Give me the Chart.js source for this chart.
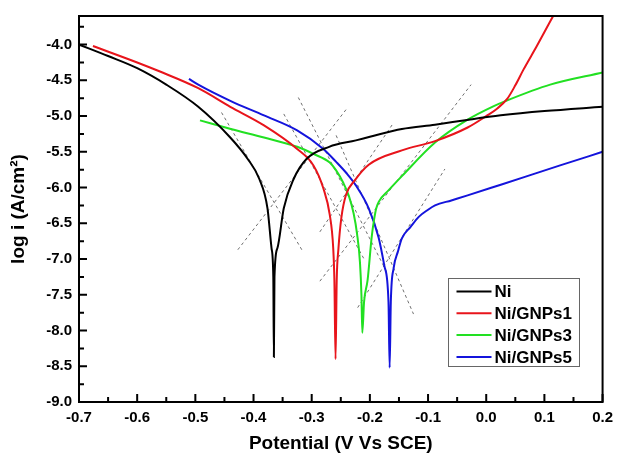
<!DOCTYPE html>
<html>
<head>
<meta charset="utf-8">
<title>Tafel curves</title>
<script src="https://cdn.jsdelivr.net/npm/chart.js@4.4.1/dist/chart.umd.min.js"></script>
<style>
  html, body { margin: 0; padding: 0; background: #fff; }
  canvas { display: block; }
</style>
</head>
<body>
<canvas id="tafelChart" width="620" height="460"></canvas>
<script>
// Ejes
const xTicks = [-0.7, -0.6, -0.5, -0.4, -0.3, -0.2, -0.1, 0.0, 0.1, 0.2];
const yTicks = [-9.0, -8.5, -8.0, -7.5, -7.0, -6.5, -6.0, -5.5, -5.0, -4.5, -4.0];

// Nombres de las series
const seriesNames = ['Ni', 'Ni/GNPs1', 'Ni/GNPs3', 'Ni/GNPs5'];

// Ni
const niPotential = [-0.700, -0.650, -0.600, -0.550, -0.495, -0.440, -0.410, -0.390, -0.376, -0.369, -0.366, -0.365, -0.364, -0.359, -0.348, -0.331, -0.309, -0.270, -0.224, -0.200, -0.145, -0.088, -0.030, 0.025, 0.100, 0.200];
const niLogI = [-4.00, -4.16, -4.33, -4.56, -4.87, -5.30, -5.60, -5.88, -6.29, -6.85, -7.25, -8.37, -7.25, -6.85, -6.29, -5.88, -5.60, -5.43, -5.34, -5.29, -5.18, -5.12, -5.05, -4.99, -4.93, -4.87];

// Ni/GNPs1
const gnps1Potential = [-0.676, -0.600, -0.563, -0.495, -0.440, -0.382, -0.325, -0.297, -0.280, -0.269, -0.263, -0.261, -0.259, -0.257, -0.254, -0.249, -0.241, -0.226, -0.202, -0.145, -0.088, -0.032, 0.000, 0.018, 0.036, 0.050, 0.064, 0.087, 0.115, 0.121];
const gnps1LogI = [-4.02, -4.25, -4.37, -4.61, -4.87, -5.13, -5.46, -5.69, -6.01, -6.38, -6.85, -7.30, -8.40, -7.30, -6.85, -6.42, -6.10, -5.90, -5.68, -5.48, -5.35, -5.16, -5.00, -4.90, -4.76, -4.57, -4.35, -4.02, -3.60, -3.51];

// Ni/GNPs3
const gnps3Potential = [-0.492, -0.439, -0.382, -0.325, -0.297, -0.269, -0.258, -0.246, -0.236, -0.228, -0.222, -0.217, -0.2145, -0.213, -0.210, -0.204, -0.197, -0.193, -0.189, -0.184, -0.168, -0.145, -0.088, -0.032, 0.013, 0.033, 0.110, 0.200];
const gnps3LogI = [-5.06, -5.18, -5.30, -5.43, -5.53, -5.65, -5.76, -5.93, -6.12, -6.36, -6.65, -7.05, -7.50, -8.03, -7.60, -7.30, -6.70, -6.46, -6.29, -6.19, -6.04, -5.84, -5.37, -5.05, -4.86, -4.79, -4.56, -4.39];

// Ni/GNPs5
const gnps5Potential = [-0.511, -0.495, -0.439, -0.382, -0.325, -0.280, -0.258, -0.240, -0.224, -0.202, -0.185, -0.175, -0.168, -0.166, -0.164, -0.159, -0.152, -0.145, -0.130, -0.116, -0.100, -0.088, -0.060, -0.032, 0.025, 0.127, 0.200];
const gnps5LogI = [-4.48, -4.56, -4.79, -4.99, -5.20, -5.46, -5.64, -5.80, -5.97, -6.29, -6.70, -7.10, -7.60, -8.52, -7.60, -7.12, -6.90, -6.71, -6.55, -6.41, -6.31, -6.25, -6.18, -6.11, -5.96, -5.69, -5.50];

// Rectas de Tafel (inicio y fin: potencial, log i)
const tafelStart = [[-0.455, -4.95], [-0.427, -6.87], [-0.348, -4.97], [-0.286, -6.62], [-0.323, -4.74], [-0.286, -7.31], [-0.258, -5.27], [-0.221, -7.68]];
const tafelEnd = [[-0.317, -6.87], [-0.241, -4.91], [-0.210, -7.00], [-0.159, -5.09], [-0.170, -7.20], [-0.026, -4.56], [-0.125, -7.77], [-0.071, -5.74]];

const seriesColors = ['#000000', '#e8141b', '#22e022', '#1414dc'];
const FONT = '"Liberation Sans", Arial, sans-serif';

function toPoints(xs, ys) {
    return xs.map((x, i) => ({ x: x, y: ys[i] }));
}

const curveSets = [
    [niPotential, niLogI],
    [gnps1Potential, gnps1LogI],
    [gnps3Potential, gnps3LogI],
    [gnps5Potential, gnps5LogI]
];

const datasets = curveSets.map((c, i) => ({
    label: seriesNames[i],
    data: toPoints(c[0], c[1]),
    showLine: true,
    borderColor: seriesColors[i],
    backgroundColor: seriesColors[i],
    borderWidth: 2,
    pointRadius: 0,
    cubicInterpolationMode: 'monotone'
}));

tafelStart.forEach((s, i) => {
    datasets.push({
        label: '',
        data: [{ x: s[0], y: s[1] }, { x: tafelEnd[i][0], y: tafelEnd[i][1] }],
        showLine: true,
        borderColor: '#707070',
        borderWidth: 1,
        borderDash: [3, 3],
        pointRadius: 0
    });
});

// Marco con marcas hacia dentro
const framePlugin = {
    id: 'frame',
    afterDatasetsDraw(chart) {
        const { ctx, chartArea: a, scales } = chart;
        const xs = scales.x, ys = scales.y;
        ctx.save();
        ctx.strokeStyle = '#000';
        ctx.lineWidth = 2;
        ctx.strokeRect(a.left, a.top, a.right - a.left, a.bottom - a.top);

        ctx.beginPath();
        xs.ticks.forEach((t, i) => {
            const px = xs.getPixelForValue(t.value);
            ctx.moveTo(px, a.bottom); ctx.lineTo(px, a.bottom - 8);
            if (i < xs.ticks.length - 1) {
                const m = xs.getPixelForValue((t.value + xs.ticks[i + 1].value) / 2);
                ctx.moveTo(m, a.bottom); ctx.lineTo(m, a.bottom - 5);
            }
        });
        ys.ticks.forEach((t, i) => {
            const py = ys.getPixelForValue(t.value);
            ctx.moveTo(a.left, py); ctx.lineTo(a.left + 8, py);
            const next = i < ys.ticks.length - 1 ? ys.ticks[i + 1].value : t.value + 0.5;
            const mv = (t.value + next) / 2;
            if (mv < ys.max) {
                const m = ys.getPixelForValue(mv);
                ctx.moveTo(a.left, m); ctx.lineTo(a.left + 5, m);
            }
        });
        ctx.stroke();
        ctx.restore();
    }
};

// Leyenda dentro del área
const legendPlugin = {
    id: 'boxLegend',
    afterDraw(chart) {
        const ctx = chart.ctx;
        const items = chart.data.datasets.filter(d => d.label);
        const box = { x: 448.5, y: 278.5, w: 131, h: 88 };
        ctx.save();
        ctx.fillStyle = '#fff';
        ctx.fillRect(box.x, box.y, box.w, box.h);
        ctx.strokeStyle = '#666';
        ctx.lineWidth = 1;
        ctx.strokeRect(box.x, box.y, box.w, box.h);
        ctx.font = 'bold 17px ' + FONT;
        ctx.textBaseline = 'middle';
        ctx.textAlign = 'left';
        items.forEach((d, i) => {
            const y = box.y + 13 + i * 21.8;
            ctx.strokeStyle = d.borderColor;
            ctx.lineWidth = 2;
            ctx.beginPath();
            ctx.moveTo(box.x + 8, y);
            ctx.lineTo(box.x + 43, y);
            ctx.stroke();
            ctx.fillStyle = '#000';
            ctx.fillText(d.label, box.x + 46, y + 1);
        });
        ctx.restore();
    }
};

const tickFont = { family: FONT, size: 15, weight: 'bold' };
const titleFont = { family: FONT, size: 19, weight: 'bold', lineHeight: 1 };

new Chart(document.getElementById('tafelChart').getContext('2d'), {
    type: 'scatter',
    data: { datasets: datasets },
    options: {
        responsive: false,
        animation: false,
        devicePixelRatio: 1,
        layout: { padding: { top: 12, right: 10, left: 0, bottom: 0 } },
        plugins: {
            legend: { display: false },
            tooltip: { enabled: false }
        },
        scales: {
            x: {
                type: 'linear',
                min: -0.7,
                max: 0.2,
                afterBuildTicks: s => { s.ticks = xTicks.map(v => ({ value: v })); },
                afterFit: s => { s.height = 58; },
                ticks: {
                    callback: v => Number(v).toFixed(1),
                    font: tickFont,
                    color: '#000',
                    padding: 7,
                    maxRotation: 0,
                    autoSkip: false
                },
                grid: { display: false, drawTicks: false },
                border: { display: false },
                title: {
                    display: true,
                    text: 'Potential (V Vs SCE)',
                    font: titleFont,
                    color: '#000',
                    padding: { top: 0, bottom: 7 }
                }
            },
            y: {
                type: 'linear',
                min: -9.0,
                max: -3.6,
                afterBuildTicks: s => { s.ticks = yTicks.map(v => ({ value: v })); },
                afterFit: s => { s.width = 79; },
                ticks: {
                    callback: v => Number(v).toFixed(1),
                    font: tickFont,
                    color: '#000',
                    padding: 7,
                    autoSkip: false
                },
                grid: { display: false, drawTicks: false },
                border: { display: false },
                title: {
                    display: true,
                    text: 'log i (A/cm²)',
                    font: titleFont,
                    color: '#000',
                    padding: { top: 9, bottom: 0 }
                }
            }
        }
    },
    plugins: [framePlugin, legendPlugin]
});
</script>
</body>
</html>
